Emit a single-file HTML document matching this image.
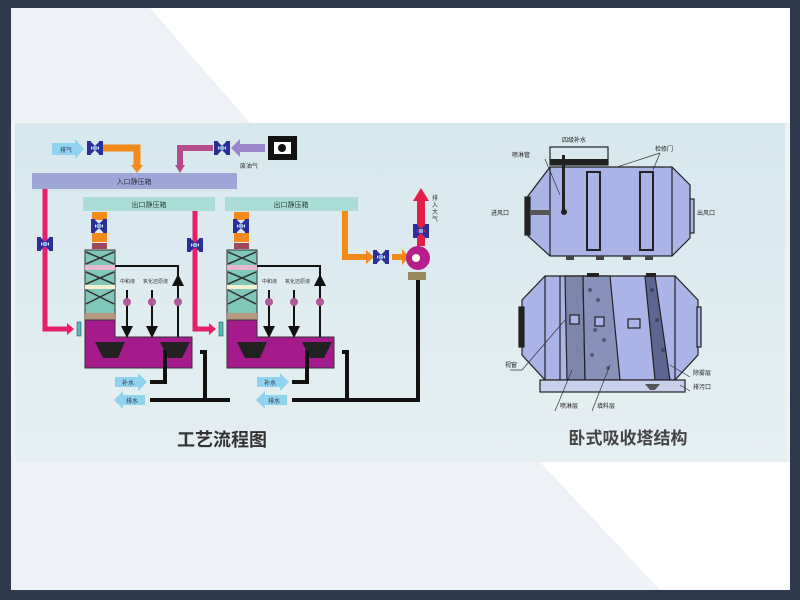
<!DOCTYPE html>
<html><head><meta charset="utf-8"><style>
html,body{margin:0;padding:0;width:800px;height:600px;overflow:hidden;background:#2f3a4f}
svg{display:block}
</style></head><body>
<svg width="800" height="600" viewBox="0 0 800 600" xmlns="http://www.w3.org/2000/svg" font-family="Liberation Sans, Noto Sans CJK SC, sans-serif">
<defs>
<linearGradient id="bg" x1="0" y1="0" x2="0" y2="1"><stop offset="0" stop-color="#d6e8ee"/><stop offset="1" stop-color="#e6eff2"/></linearGradient>
<g id="valve"><rect x="0" y="0" width="4" height="14" fill="#2a2f9a"/><rect x="12" y="0" width="4" height="14" fill="#2a2f9a"/><path d="M3 2 L13 12 M3 12 L13 2" stroke="#2a2f9a" stroke-width="3"/><rect x="6" y="5" width="4" height="4" fill="#8ad"/></g>
<marker id="ab" markerWidth="6" markerHeight="6" refX="3" refY="3" orient="auto"><path d="M0 0 L6 3 L0 6z" fill="#111"/></marker>
</defs>
<rect x="11" y="8" width="779" height="582" fill="#eef1f6"/>
<polygon points="150,8 790,8 790,123 250,123" fill="#ffffff"/>
<polygon points="540,462 790,462 790,590 660,590" fill="#ffffff"/>
<rect x="15" y="123" width="770" height="339" fill="url(#bg)"/>

<!-- top left inputs -->
<path d="M52 143 L75 143 L75 139 L84 149 L75 159 L75 155 L52 155z" fill="#8fd3f0"/>
<text x="60" y="152" font-size="6" fill="#335">排气</text>
<use href="#valve" x="87" y="141"/>
<path d="M103 148 H137 V166" stroke="#f28a1c" stroke-width="7" fill="none"/><path d="M131 165 L143 165 L137 173z" fill="#f28a1c"/>
<path d="M213 148 H180 V166" stroke="#b54a8c" stroke-width="6" fill="none"/><path d="M175 165 L185 165 L180 173z" fill="#b54a8c"/>
<use href="#valve" x="214" y="141"/>
<path d="M265 144 L240 144 L240 139 L231 148 L240 157 L240 152 L265 152z" fill="#9a86c8"/>
<text x="240" y="168" font-size="6" fill="#333">废油气</text>
<rect x="268" y="136" width="29" height="24" fill="#111"/><rect x="274" y="142" width="17" height="12" fill="#fff"/><circle cx="282" cy="148" r="4" fill="#111"/>

<rect x="32" y="173" width="205" height="16" fill="#9fa7d9"/>
<text x="134" y="184" font-size="7" text-anchor="middle" fill="#334">入口静压箱</text>
<rect x="83" y="197" width="132" height="14" fill="#a9ddd6"/>
<text x="149" y="207" font-size="7" text-anchor="middle" fill="#344">出口静压箱</text>
<rect x="225" y="197" width="133" height="14" fill="#a9ddd6"/>
<text x="291" y="207" font-size="7" text-anchor="middle" fill="#344">出口静压箱</text>

<!-- pink pipes -->
<path d="M45 189 V329 H68" stroke="#e51f6a" stroke-width="5" fill="none"/><path d="M67 323 L74 329 L67 335z" fill="#e51f6a"/>
<use href="#valve" x="37" y="237"/>
<path d="M195 211 V329 H210" stroke="#e51f6a" stroke-width="5" fill="none"/><path d="M209 323 L216 329 L209 335z" fill="#e51f6a"/>
<use href="#valve" x="187" y="238"/>

<!-- towers -->
<g id="tower">
<rect x="92" y="212" width="15" height="8" fill="#f28a1c"/>
<use href="#valve" x="91" y="219"/>
<rect x="92" y="233" width="15" height="9" fill="#f28a1c"/>
<rect x="92" y="243" width="15" height="6" fill="#9a4a5a"/>
<rect x="85" y="250" width="30" height="70" fill="#7fc7b8" stroke="#333" stroke-width="1"/>
<path d="M86 252 L114 264 M114 252 L86 264 M86 272 L114 284 M114 272 L86 284 M86 290 L114 304 M114 290 L86 304" stroke="#333" stroke-width="1.5"/>
<rect x="85" y="265" width="30" height="5" fill="#e8b8d0"/>
<rect x="85" y="285" width="30" height="4" fill="#f6f0d0"/>
<rect x="85" y="313" width="30" height="7" fill="#b89a80"/>
<path d="M85 320 H115 V337 H192 V368 H85z" fill="#a51b8c" stroke="#333" stroke-width="1"/>
<rect x="77" y="322" width="4" height="14" fill="#5bb" stroke="#333" stroke-width=".5"/>
<path d="M95 342 H125 L118 358 H103z" fill="#222"/>
<path d="M160 342 H190 L182 358 H168z" fill="#222"/>
<path d="M115 266 H178 V297" stroke="#111" stroke-width="2" fill="none"/>
<path d="M178 337 V280" stroke="#111" stroke-width="2" marker-end="url(#ab)"/>
<path d="M127 290 V332" stroke="#111" stroke-width="2" marker-end="url(#ab)"/>
<path d="M152 290 V332" stroke="#111" stroke-width="2" marker-end="url(#ab)"/>
<circle cx="127" cy="302" r="4" fill="#b05a9a"/><circle cx="152" cy="302" r="4" fill="#b05a9a"/><circle cx="178" cy="302" r="4" fill="#b05a9a"/>
<text x="120" y="283" font-size="5" fill="#333">中和液</text>
<text x="143" y="283" font-size="5" fill="#333">氧化还原液</text>
<path d="M165 350 V382 H150" stroke="#111" stroke-width="4" fill="none"/>
<path d="M200 352 H205 V400" stroke="#111" stroke-width="4" fill="none"/>
<path d="M115 377 H138 V373 L147 382 L138 391 V387 H115z" fill="#8fd3f0"/>
<text x="122" y="385" font-size="6" fill="#335">补水</text>
<path d="M145 395 H123 V391 L114 400 L123 409 V405 H145z" fill="#8fd3f0"/>
<text x="126" y="403" font-size="6" fill="#335">排水</text>
</g>
<use href="#tower" x="142"/>
<path d="M150 400 H230" stroke="#111" stroke-width="4"/>
<path d="M292 400 H418 V280" stroke="#111" stroke-width="4" fill="none"/>

<!-- fan -->
<path d="M345 211 V257 H368" stroke="#f28a1c" stroke-width="6" fill="none"/><path d="M366 250 L374 257 L366 264z" fill="#f28a1c"/>
<use href="#valve" x="373" y="250"/>
<path d="M392 254 H402 V249 L409 257 L402 265 V260 H392z" fill="#f28a1c"/>
<circle cx="418" cy="258" r="12" fill="#b51f8c"/><circle cx="416" cy="258" r="4" fill="#ffe"/>
<rect x="408" y="272" width="18" height="8" fill="#9a8a60"/>
<rect x="417" y="200" width="8" height="46" fill="#e51f4a"/><path d="M413 201 L421 188 L429 201z" fill="#e51f4a"/>
<use href="#valve" x="413" y="224"/>
<text font-size="6" fill="#333"><tspan x="432" y="200">排</tspan><tspan x="432" y="207">入</tspan><tspan x="432" y="214">大</tspan><tspan x="432" y="221">气</tspan></text>

<text x="222" y="446" font-size="18" font-weight="bold" text-anchor="middle" fill="#333">工艺流程图</text>

<!-- right: top vessel -->
<g stroke="#222" stroke-width="1.2" fill="#aab4e6">
<path d="M550 167 H672 L690 185 V238 L672 256 H550 L528 236 V196z"/>
<rect x="525" y="197" width="5" height="38" fill="#222"/>
<rect x="690" y="199" width="4" height="34" fill="#aab4e6"/>
<rect x="587" y="172" width="13" height="78" fill="#aab4e6" stroke-width="2"/>
<rect x="640" y="172" width="13" height="78" fill="#aab4e6" stroke-width="2"/>
<path d="M550 167 V256 M672 167 V256"/>
<rect x="550" y="147" width="58" height="18" fill="none"/>
</g>
<rect x="550" y="159" width="58" height="6" fill="#222"/>
<rect x="562" y="155" width="3" height="55" fill="#222"/><circle cx="564" cy="212" r="3" fill="#222"/>
<rect x="530" y="210" width="20" height="5" fill="#555"/>
<text x="562" y="142" font-size="6" fill="#222">四级补水</text>
<text x="512" y="157" font-size="6" fill="#222">喷淋管</text>
<text x="655" y="151" font-size="6" fill="#222">检修门</text>
<text x="491" y="215" font-size="6" fill="#222">进风口</text>
<text x="697" y="215" font-size="6" fill="#222">出风口</text>
<path d="M545 159 L560 195 M617 167 L660 153 M653 170 L660 153" stroke="#333" stroke-width=".7"/>
<g fill="#444"><rect x="566" y="256" width="8" height="4"/><rect x="596" y="256" width="8" height="4"/><rect x="623" y="256" width="8" height="4"/><rect x="645" y="256" width="8" height="4"/></g>

<!-- bottom vessel -->
<g stroke="#222" stroke-width="1.2">
<path d="M545 276 H675 L698 300 V355 L675 380 H545 L522 355 V300z" fill="#aab4e6"/>
<rect x="519" y="307" width="5" height="40" fill="#222"/>
<rect x="697" y="307" width="4" height="40" fill="#aab4e6"/>
<path d="M545 276 V380 M675 276 V380 M560 276 V380"/>
<path d="M565 276 H583 L585 380 H567z" fill="#7c86a8"/>
<path d="M583 276 H610 L620 380 H585z" fill="#8892b8"/>
<path d="M645 276 H655 L670 380 H655z" fill="#5c6690"/>
<rect x="540" y="380" width="145" height="12" fill="#c8d0ea"/>
<rect x="570" y="315" width="9" height="9" fill="#aab4e6"/>
<rect x="595" y="317" width="9" height="9" fill="#aab4e6"/>
<rect x="628" y="319" width="12" height="9" fill="#aab4e6"/>
</g>
<g fill="#223" opacity=".5">
<circle cx="590" cy="290" r="2"/><circle cx="598" cy="300" r="2"/><circle cx="604" cy="340" r="2"/><circle cx="592" cy="355" r="2"/><circle cx="608" cy="368" r="2"/><circle cx="595" cy="330" r="2"/>
<circle cx="652" cy="290" r="2"/><circle cx="657" cy="320" r="2"/><circle cx="663" cy="350" r="2"/>
</g>
<rect x="587" y="273" width="12" height="4" fill="#222"/><rect x="646" y="273" width="10" height="4" fill="#222"/>
<path d="M645 384 H660 L655 390 H650z" fill="#555"/>
<text x="505" y="367" font-size="6" fill="#222">视窗</text>
<text x="693" y="375" font-size="6" fill="#222">除雾层</text>
<text x="693" y="389" font-size="6" fill="#222">排污口</text>
<text x="560" y="408" font-size="6" fill="#222">喷淋层</text>
<text x="597" y="408" font-size="6" fill="#222">填料层</text>
<path d="M510 370 H522 L565 320 M555 411 L572 370 M592 411 L610 365 M690 377 L670 365 M690 391 L680 385" stroke="#333" stroke-width=".7" fill="none"/>
<text x="628" y="444" font-size="17" font-weight="bold" text-anchor="middle" fill="#444">卧式吸收塔结构</text>
</svg>
</body></html>
